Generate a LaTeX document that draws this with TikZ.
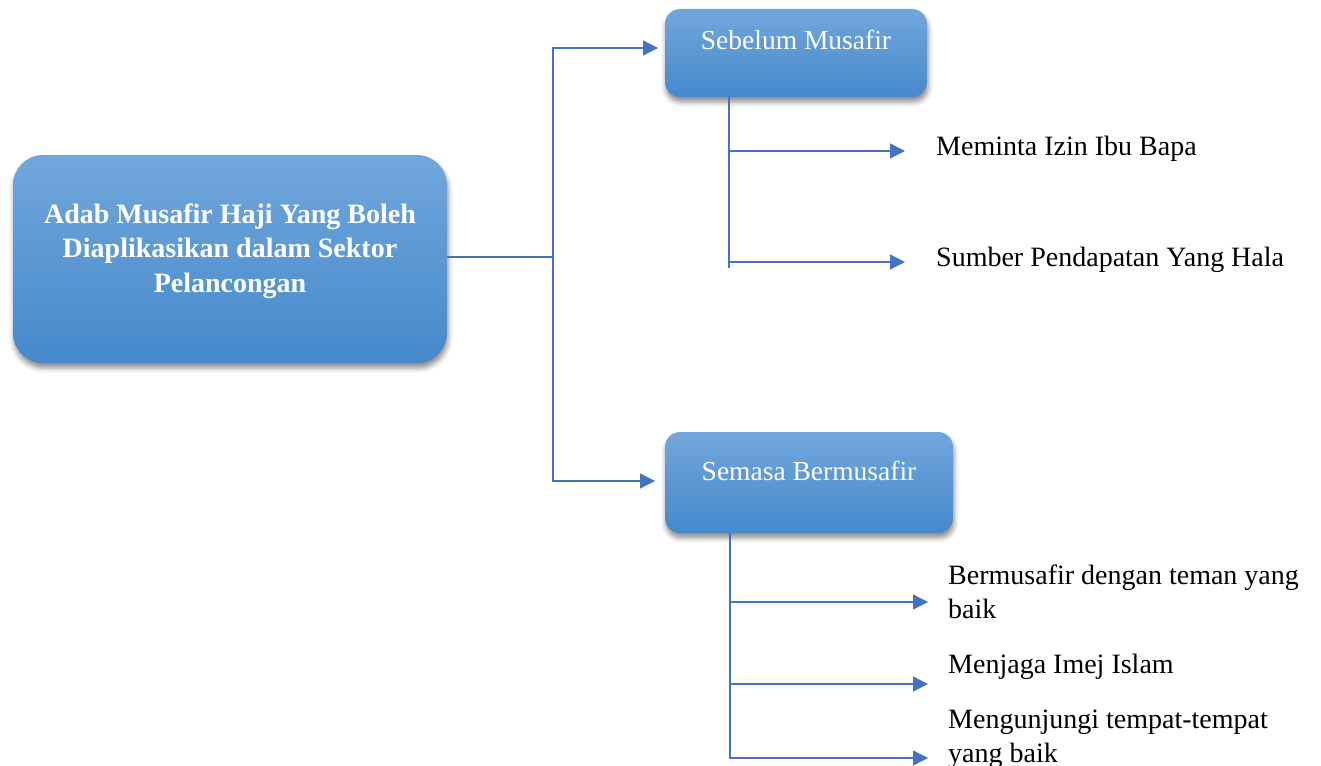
\documentclass[tikz,border=0pt]{standalone}
\usepackage{fontspec}
\setmainfont{Liberation Serif}
\usetikzlibrary{arrows.meta,shadows.blur,calc}
\definecolor{boxtop}{HTML}{72A7DC}
\definecolor{boxbot}{HTML}{4589CC}
\definecolor{linec}{HTML}{4472C4}
\tikzset{
  boxbase/.style={draw=none, top color=boxtop, bottom color=boxbot,
    blur shadow={shadow xshift=1pt, shadow yshift=-5pt, shadow blur radius=5pt, shadow opacity=45}},
  mainbox/.style={boxbase, rounded corners=30pt, minimum width=434pt, minimum height=208pt, inner sep=0pt},
  subbox/.style={boxbase, rounded corners=15pt, inner sep=0pt},
  boxtext/.style={text=white, inner sep=0pt, font=\fontsize{27.5}{34.5}\selectfont},
  leaf/.style={text=black, inner sep=0pt, align=left, anchor=base west, font=\fontsize{28}{34}\selectfont},
  conn/.style={draw=linec, line width=1.3pt},
  arr/.style={conn, -{Triangle[length=15pt,width=15pt]}}
}
\begin{document}
\begin{tikzpicture}[x=1pt,y=-1pt]
\useasboundingbox (0,0) rectangle (1321,765);
% main box
\node[mainbox] (main) at (230,259) {};
\node[boxtext, align=center, anchor=base, font=\fontsize{28}{34.5}\selectfont\bfseries] (mainT) at (230,292)
  {Adab Musafir Haji Yang Boleh\\Diaplikasikan dalam Sektor\\Pelancongan};
% sub boxes
\node[subbox, minimum width=262pt, minimum height=88pt] (seb) at (796,53) {};
\node[boxtext, anchor=base] (sebT) at (796,50) {Sebelum Musafir};
\node[subbox, minimum width=288pt, minimum height=101pt] (sem) at (809,482.5) {};
\node[boxtext, anchor=base] (semT) at (809,480) {Semasa Bermusafir};
% junction
\coordinate (j) at (553,257);
\coordinate (sebTip) at (658,48);
\coordinate (semTip) at (655,481);
\draw[conn] (main.east |- j) -- (j);
\draw[arr] (j) |- (sebTip);
\draw[arr] (j) |- (semTip);
% Sebelum children
\coordinate (st) at (729,268);
\coordinate (s1) at (905,151);
\coordinate (s2) at (905,262);
\draw[conn] (seb.south -| st) -- (st);
\draw[arr] (s1 -| st) -- (s1);
\draw[arr] (s2 -| st) -- (s2);
\node[leaf] (l1) at (936,155) {Meminta Izin Ibu Bapa};
\node[leaf] (l2) at (936,266) {Sumber Pendapatan Yang Hala};
% Semasa children
\coordinate (mt) at (730,0);
\coordinate (m1) at (928,602);
\coordinate (m2) at (928,684);
\coordinate (m3) at (928,758);
\draw[arr] (sem.south -| mt) |- (m3);
\draw[arr] (m1 -| mt) -- (m1);
\draw[arr] (m2 -| mt) -- (m2);
\node[leaf] (l3) at (948,618) {Bermusafir dengan teman yang\\baik};
\node[leaf] (l4) at (948,673) {Menjaga Imej Islam};
\node[leaf] (l5) at (948,762) {Mengunjungi tempat-tempat\\yang baik};
\end{tikzpicture}
\end{document}
